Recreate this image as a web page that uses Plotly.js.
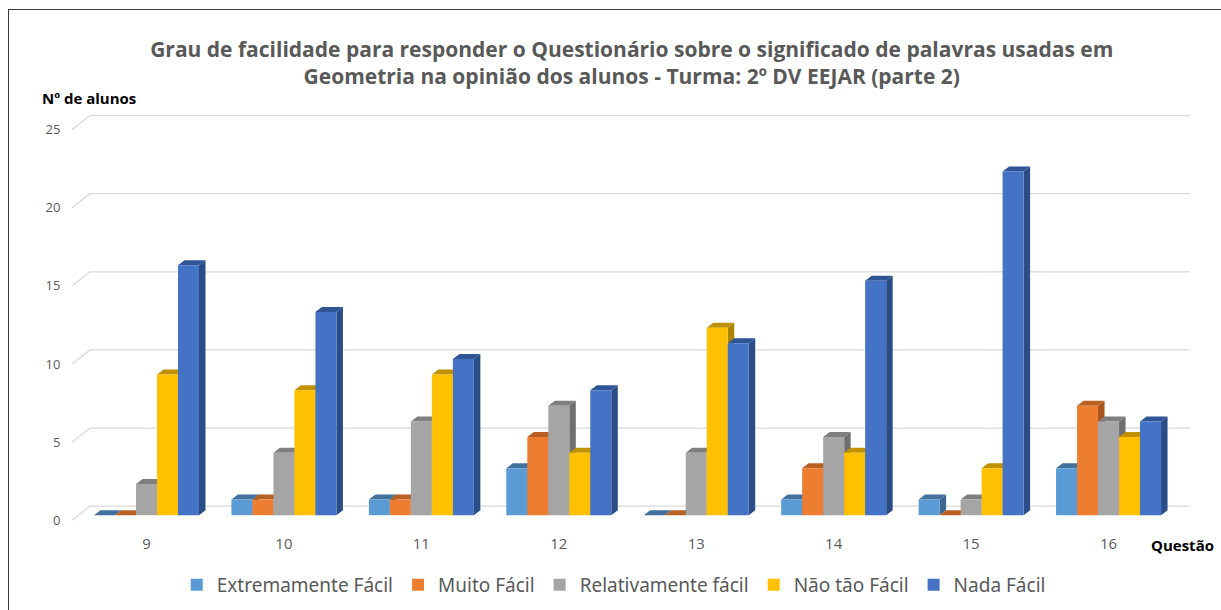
<!DOCTYPE html>
<html>
<head>
<meta charset="utf-8">
<script src="https://cdn.plot.ly/plotly-3.0.1.min.js"></script>
<style>
  html, body { margin: 0; padding: 0; background: #ffffff; overflow: hidden; }
  #frame { position: absolute; left: 8px; top: 9px; width: 1400px; height: 800px;
           border-left: 1.5px solid #3a3a3a; border-top: 1.5px solid #3a3a3a; }
  #chart { position: absolute; left: 0; top: 0; width: 1221px; height: 610px; }
</style>
</head>
<body>
<div id="frame"></div>
<div id="chart"></div>
<script>
// ---- data ----
const categories = ['9', '10', '11', '12', '13', '14', '15', '16'];
const seriesNames = ['Extremamente Fácil', 'Muito Fácil', 'Relativamente fácil', 'Não tão Fácil', 'Nada Fácil'];
const extremamenteFacil   = [0, 1, 1, 3, 0, 1, 1, 3];
const muitoFacil          = [0, 1, 1, 5, 0, 3, 0, 7];
const relativamenteFacil  = [2, 4, 6, 7, 4, 5, 1, 6];
const naoTaoFacil         = [9, 8, 9, 4, 12, 4, 3, 5];
const nadaFacil           = [16, 13, 10, 8, 11, 15, 22, 6];
const yTicks = [0, 5, 10, 15, 20, 25];

// ---- styles ----
const frontColors = ['#5B9BD5', '#ED7D31', '#A5A5A5', '#FFC000', '#4472C4'];
const topColors   = ['#41719C', '#B85F22', '#7F7F7F', '#C09100', '#2F5597'];
const sideColors  = ['#3B6790', '#A6541C', '#6F6F6F', '#AD8300', '#2A4C87'];

const W = 1221, H = 610;
const mL = 72, mR = 29.5, mT = 109.4, mB = 87.2;
const xRange = [-0.542, 7.6];
const yRange = [-0.5, 26];
const plotW = W - mL - mR, plotH = H - mT - mB;
const pxX = plotW / (xRange[1] - xRange[0]);
const pxY = plotH / (yRange[1] - yRange[0]);

const allSeries = [extremamenteFacil, muitoFacil, relativamenteFacil, naoTaoFacil, nadaFacil];
const xIdx = categories.map((c, i) => i);
const barW = 0.1528;
const depthX = 6.5 / pxX, depthY = 5 / pxY;

const traces = allSeries.map((vals, i) => ({
  type: 'bar',
  name: seriesNames[i],
  x: xIdx,
  y: vals,
  width: barW,
  offset: -2.5 * barW + i * barW,
  marker: { color: frontColors[i], line: { width: 0 } },
  hoverinfo: 'name+y'
}));

const shapes = [];
// back gridlines with 3D perspective diagonal at left
const gFront = -5 / pxY, gBack = 9 / pxY, gDx = 18 / pxX;
yTicks.forEach(v => {
  shapes.push({
    type: 'path', layer: 'below', xref: 'x', yref: 'y',
    path: `M ${xRange[0]},${v + gFront} L ${xRange[0] + gDx},${v + gBack} L 7.59,${v + gBack}`,
    line: { color: '#D9D9D9', width: 1.3 }
  });
});
// 3D side and top faces of the bars
allSeries.forEach((vals, i) => {
  vals.forEach((v, j) => {
    const xl = j - 2.5 * barW + i * barW;
    const xr = xl + barW;
    if (v > 0) {
      shapes.push({
        type: 'path', layer: 'between', xref: 'x', yref: 'y',
        path: `M ${xr},0 L ${xr},${v} L ${xr + depthX},${v + depthY} L ${xr + depthX},${depthY} Z`,
        fillcolor: sideColors[i], line: { width: 0 }
      });
    }
    shapes.push({
      type: 'path', layer: 'between', xref: 'x', yref: 'y',
      path: `M ${xl},${v} L ${xr},${v} L ${xr + depthX},${v + depthY} L ${xl + depthX},${v + depthY} Z`,
      fillcolor: topColors[i], line: { width: 0 }
    });
  });
});

const layout = {
  width: W, height: H,
  paper_bgcolor: 'rgba(0,0,0,0)',
  plot_bgcolor: 'rgba(0,0,0,0)',
  margin: { l: mL, r: mR, t: mT, b: mB, pad: 0, autoexpand: false },
  barmode: 'overlay',
  showlegend: true,
  title: {
    text: 'Grau de facilidade para responder o Questionário sobre o significado de palavras usadas em<br>Geometria na opinião dos alunos - Turma: 2º DV EEJAR (parte 2)',
    font: { family: 'Open Sans, sans-serif', size: 21, color: '#595959', weight: 'bold' },
    x: (mL + plotW / 2) / W, xanchor: 'center',
    y: 1 - 57 / H, yanchor: 'middle', yref: 'container'
  },
  xaxis: {
    range: xRange,
    tickmode: 'array', tickvals: xIdx, ticktext: categories,
    showgrid: false, zeroline: false, showline: false,
    ticks: 'outside', ticklen: 7, tickcolor: 'rgba(0,0,0,0)',
    ticklabelshift: -5.5,
    tickfont: { family: 'Open Sans, sans-serif', size: 15, color: '#595959' },
    fixedrange: true
  },
  yaxis: {
    range: yRange,
    tickmode: 'array', tickvals: yTicks,
    showgrid: false, zeroline: false, showline: false,
    ticks: 'outside', ticklen: 8, tickcolor: 'rgba(0,0,0,0)',
    ticklabelshift: 5,
    tickfont: { family: 'Open Sans, sans-serif', size: 13, color: '#595959' },
    fixedrange: true
  },
  legend: {
    orientation: 'h',
    x: (614 - mL) / plotW, xanchor: 'center', xref: 'paper',
    y: 1 - 585 / H, yanchor: 'middle', yref: 'container',
    font: { family: 'Noto Sans, sans-serif', size: 19, color: '#595959' },
    itemwidth: 30,
    traceorder: 'normal'
  },
  annotations: [
    {
      text: '<b>Nº de alunos</b>', showarrow: false,
      xref: 'paper', yref: 'paper',
      x: (40 - mL) / plotW, xanchor: 'left',
      y: (H - mB - 98) / plotH, yanchor: 'middle',
      font: { family: 'Open Sans, sans-serif', size: 15, color: '#000000' }
    },
    {
      text: '<b>Questão</b>', showarrow: false,
      xref: 'paper', yref: 'paper',
      x: (1183 - mL) / plotW, xanchor: 'center',
      y: -(545 - (H - mB)) / plotH, yanchor: 'middle',
      font: { family: 'Open Sans, sans-serif', size: 15, color: '#000000' }
    }
  ],
  shapes: shapes
};

Plotly.newPlot('chart', traces, layout, { displayModeBar: false, staticPlot: true });
</script>
</body>
</html>
